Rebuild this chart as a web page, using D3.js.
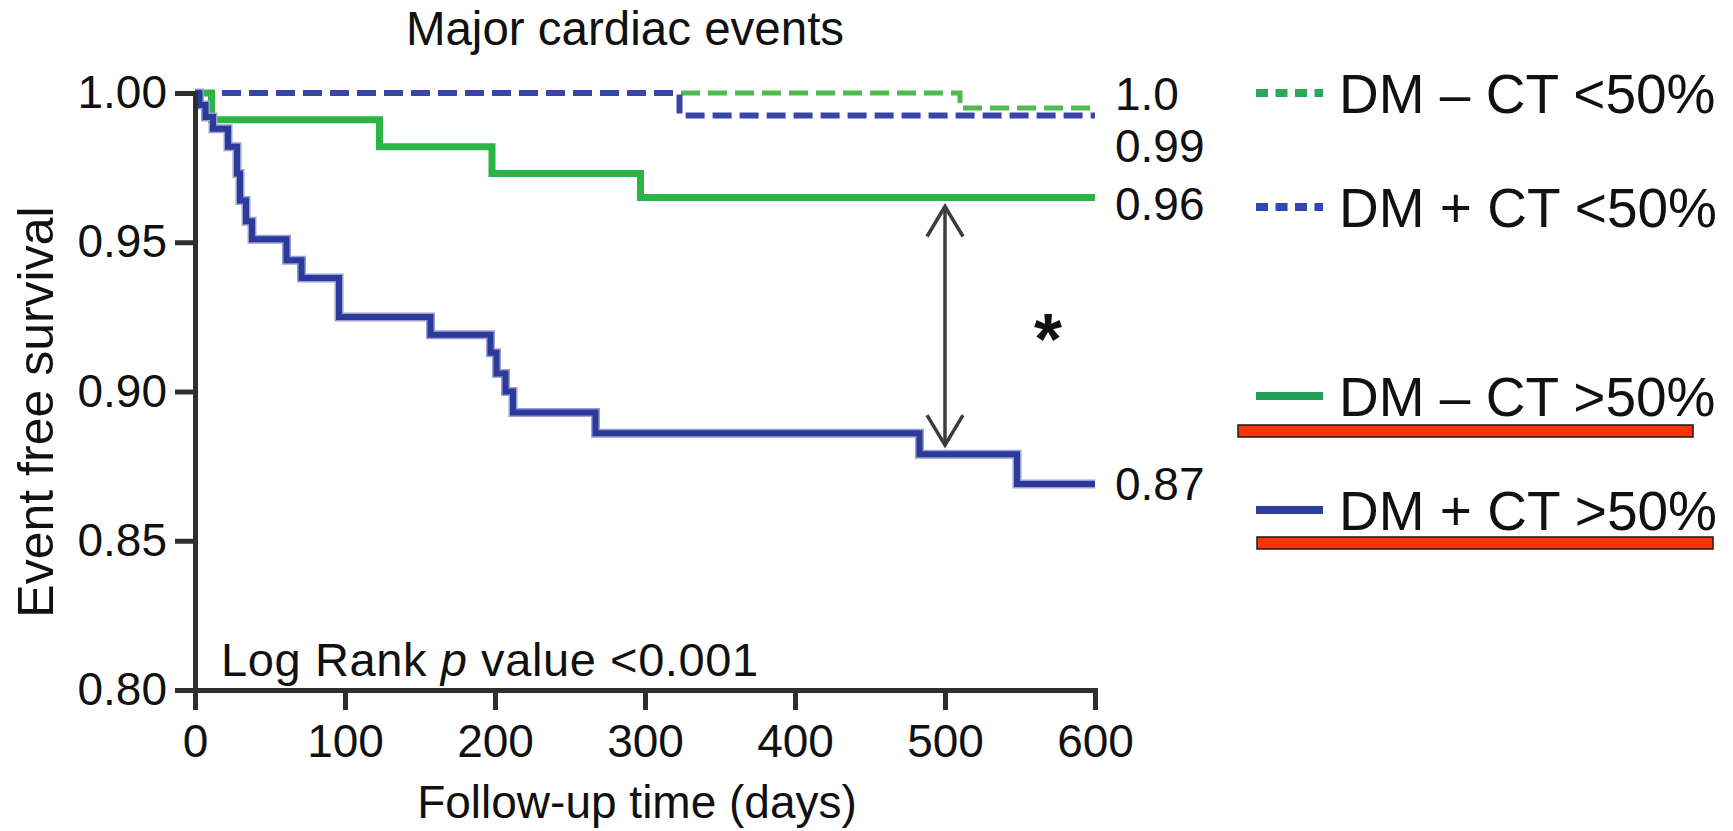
<!DOCTYPE html>
<html>
<head>
<meta charset="utf-8">
<script src="https://cdn.jsdelivr.net/npm/d3@7"></script>
<style>
  html, body { margin: 0; padding: 0; background: #fff; }
  svg { display: block; font-family: "Liberation Sans", Arial, sans-serif; }
</style>
</head>
<body>
<div id="chart"></div>
<script>
// data
const chartTitle = 'Major cardiac events';
const xTitle = 'Follow-up time (days)';
const yTitle = 'Event free survival';
const seriesNames = ['DM \u2013 CT <50%', 'DM + CT <50%', 'DM \u2013 CT >50%', 'DM + CT >50%'];

const noDmLowDays = [0, 510];
const noDmLowSurv = [1.000, 0.995];
const dmLowDays = [0, 323];
const dmLowSurv = [1.000, 0.9925];
const noDmHighDays = [0, 11, 123, 198, 297];
const noDmHighSurv = [1.000, 0.991, 0.982, 0.973, 0.965];
const dmHighDays = [0, 3, 7, 12, 22, 28, 30, 34, 38, 61, 71, 96, 157, 197, 201, 207, 212, 267, 483, 548];
const dmHighSurv = [1.000, 0.996, 0.992, 0.988, 0.982, 0.973, 0.964, 0.957, 0.951, 0.944, 0.938, 0.925,
                    0.919, 0.913, 0.906, 0.900, 0.893, 0.886, 0.879, 0.869];
const followUpEnd = 600;

const xTicks = [0, 100, 200, 300, 400, 500, 600];
const yTicks = [0.80, 0.85, 0.90, 0.95, 1.00];
const endLabels = ['1.0', '0.99', '0.96', '0.87'];
const arrowDay = 500;

// layout
const w = 1733, h = 831;
const axisColor = '#2e2e2e';
const green = '#2db446', blue = '#2c3b9b';

const svg = d3.select('#chart')
  .append('svg')
  .attr('width', w)
  .attr('height', h)
  .style('background-color', '#fff');

const x = d3.scaleLinear().domain([0, 600]).range([195, 1095]);
const y = d3.scaleLinear().domain([0.80, 1.00]).range([690, 93]);

// build step data, last value carried to end of follow-up
function steps(days, surv) {
  const pts = days.map((d, i) => [d, surv[i]]);
  pts.push([followUpEnd, surv[surv.length - 1]]);
  return pts;
}
const line = d3.line()
  .x(d => x(d[0]))
  .y(d => y(d[1]))
  .curve(d3.curveStepAfter);

// dashed curves first, solid on top
svg.append('path')
  .datum(steps(noDmLowDays, noDmLowSurv))
  .attr('d', line)
  .attr('fill', 'none')
  .attr('stroke', '#4dbb4d')
  .attr('stroke-width', 5)
  .attr('stroke-dasharray', '19,8');

svg.append('path')
  .datum(steps(dmLowDays, dmLowSurv))
  .attr('d', line)
  .attr('fill', 'none')
  .attr('stroke', '#3a45aa')
  .attr('stroke-width', 6)
  .attr('stroke-dasharray', '19,8');

svg.append('path')
  .datum(steps(noDmHighDays, noDmHighSurv))
  .attr('d', line)
  .attr('fill', 'none')
  .attr('stroke', green)
  .attr('stroke-width', 7);

const dmHigh = steps(dmHighDays, dmHighSurv);
svg.append('path')
  .datum(dmHigh)
  .attr('d', line)
  .attr('fill', 'none')
  .attr('stroke', '#9aa0d2')
  .attr('stroke-width', 9);
svg.append('path')
  .datum(dmHigh)
  .attr('d', line)
  .attr('fill', 'none')
  .attr('stroke', blue)
  .attr('stroke-width', 6);

// axes
const yAxis = d3.axisLeft(y)
  .tickValues(yTicks)
  .tickFormat(d3.format('.2f'))
  .tickSize(20)
  .tickPadding(8)
  .tickSizeOuter(0);
const xAxis = d3.axisBottom(x)
  .tickValues(xTicks)
  .tickFormat(d3.format('d'))
  .tickSize(20)
  .tickPadding(14)
  .tickSizeOuter(0);

svg.append('g')
  .attr('transform', 'translate(' + x(0) + ',0)')
  .attr('id', 'y-axis')
  .call(yAxis);
svg.append('g')
  .attr('transform', 'translate(0,' + y(0.80) + ')')
  .attr('id', 'x-axis')
  .call(xAxis);

svg.selectAll('#x-axis path, #y-axis path')
  .attr('stroke', axisColor)
  .attr('stroke-width', 5)
  .attr('stroke-linecap', 'square');
svg.selectAll('#x-axis line, #y-axis line')
  .attr('stroke', axisColor)
  .attr('stroke-width', 5);
svg.selectAll('#x-axis text, #y-axis text')
  .attr('fill', '#111')
  .style('font-size', '46px')
  .style('font-family', '"Liberation Sans", Arial, sans-serif');

// titles
svg.append('text')
  .attr('x', 625).attr('y', 45)
  .attr('text-anchor', 'middle')
  .style('font-size', '47.5px')
  .attr('fill', '#111')
  .text(chartTitle);

svg.append('text')
  .attr('x', 637).attr('y', 818)
  .attr('text-anchor', 'middle')
  .style('font-size', '46px')
  .attr('fill', '#111')
  .text(xTitle);

svg.append('text')
  .attr('transform', 'translate(53,412) rotate(-90)')
  .attr('text-anchor', 'middle')
  .style('font-size', '50px')
  .attr('fill', '#111')
  .text(yTitle);

// p value note
const pNote = svg.append('text')
  .attr('x', 221).attr('y', 676)
  .style('font-size', '47px')
  .style('letter-spacing', '0.6px')
  .attr('fill', '#111');
pNote.append('tspan').text('Log Rank ');
pNote.append('tspan').style('font-style', 'italic').text('p');
pNote.append('tspan').text(' value <0.001');

// end-of-curve values
const endBaselines = [110, 162, 220, 500];
svg.selectAll('.end-label')
  .data(endLabels)
  .enter()
  .append('text')
  .attr('class', 'end-label')
  .attr('x', 1115)
  .attr('y', (d, i) => endBaselines[i])
  .style('font-size', '46px')
  .attr('fill', '#111')
  .text(d => d);

// double arrow between the two >50% curves at day 500
const ax = x(arrowDay);
const topTip = y(noDmHighSurv[noDmHighSurv.length - 1]) + 9;
const botTip = y(dmHighSurv[dmHighDays.filter(d => d <= arrowDay).length - 1]) - 9;
const arrow = svg.append('g')
  .attr('fill', 'none')
  .attr('stroke', '#3c3c3c')
  .attr('stroke-width', 3.5);
arrow.append('line')
  .attr('x1', ax).attr('x2', ax)
  .attr('y1', topTip).attr('y2', botTip);
arrow.append('path')
  .attr('d', 'M' + (ax - 18) + ',' + (topTip + 30) + 'L' + ax + ',' + topTip + 'L' + (ax + 18) + ',' + (topTip + 30));
arrow.append('path')
  .attr('d', 'M' + (ax - 18) + ',' + (botTip - 30) + 'L' + ax + ',' + botTip + 'L' + (ax + 18) + ',' + (botTip - 30));

svg.append('text')
  .attr('x', 1048).attr('y', 364)
  .attr('text-anchor', 'middle')
  .style('font-size', '72px')
  .style('font-weight', 'bold')
  .attr('fill', '#111')
  .text('*');

// legend
const legendColors = ['#2aa85a', '#3346b4', '#22a05a', '#2f3f9f'];
const legendDashed = [true, true, false, false];
const legendY = [93, 207, 396, 510];
const legend = svg.selectAll('.legend')
  .data(seriesNames)
  .enter()
  .append('g')
  .attr('class', 'legend')
  .attr('transform', (d, i) => 'translate(0,' + legendY[i] + ')');

legend.append('line')
  .attr('x1', 1256).attr('x2', 1323)
  .attr('stroke', (d, i) => legendColors[i])
  .attr('stroke-width', 8)
  .attr('stroke-dasharray', (d, i) => legendDashed[i] ? '12,7.5' : null);

legend.append('text')
  .attr('x', 1339)
  .attr('y', 20)
  .style('font-size', '55px')
  .attr('fill', '#111')
  .text(d => d);

// red underline marks on the >50% entries
const marks = [[1238, 425, 455], [1257, 537, 456]];
svg.selectAll('.mark')
  .data(marks)
  .enter()
  .append('rect')
  .attr('class', 'mark')
  .attr('x', d => d[0])
  .attr('y', d => d[1])
  .attr('width', d => d[2])
  .attr('height', 12)
  .attr('fill', '#ff3300')
  .attr('stroke', '#1a1a1a')
  .attr('stroke-width', 1.5);
</script>
</body>
</html>
